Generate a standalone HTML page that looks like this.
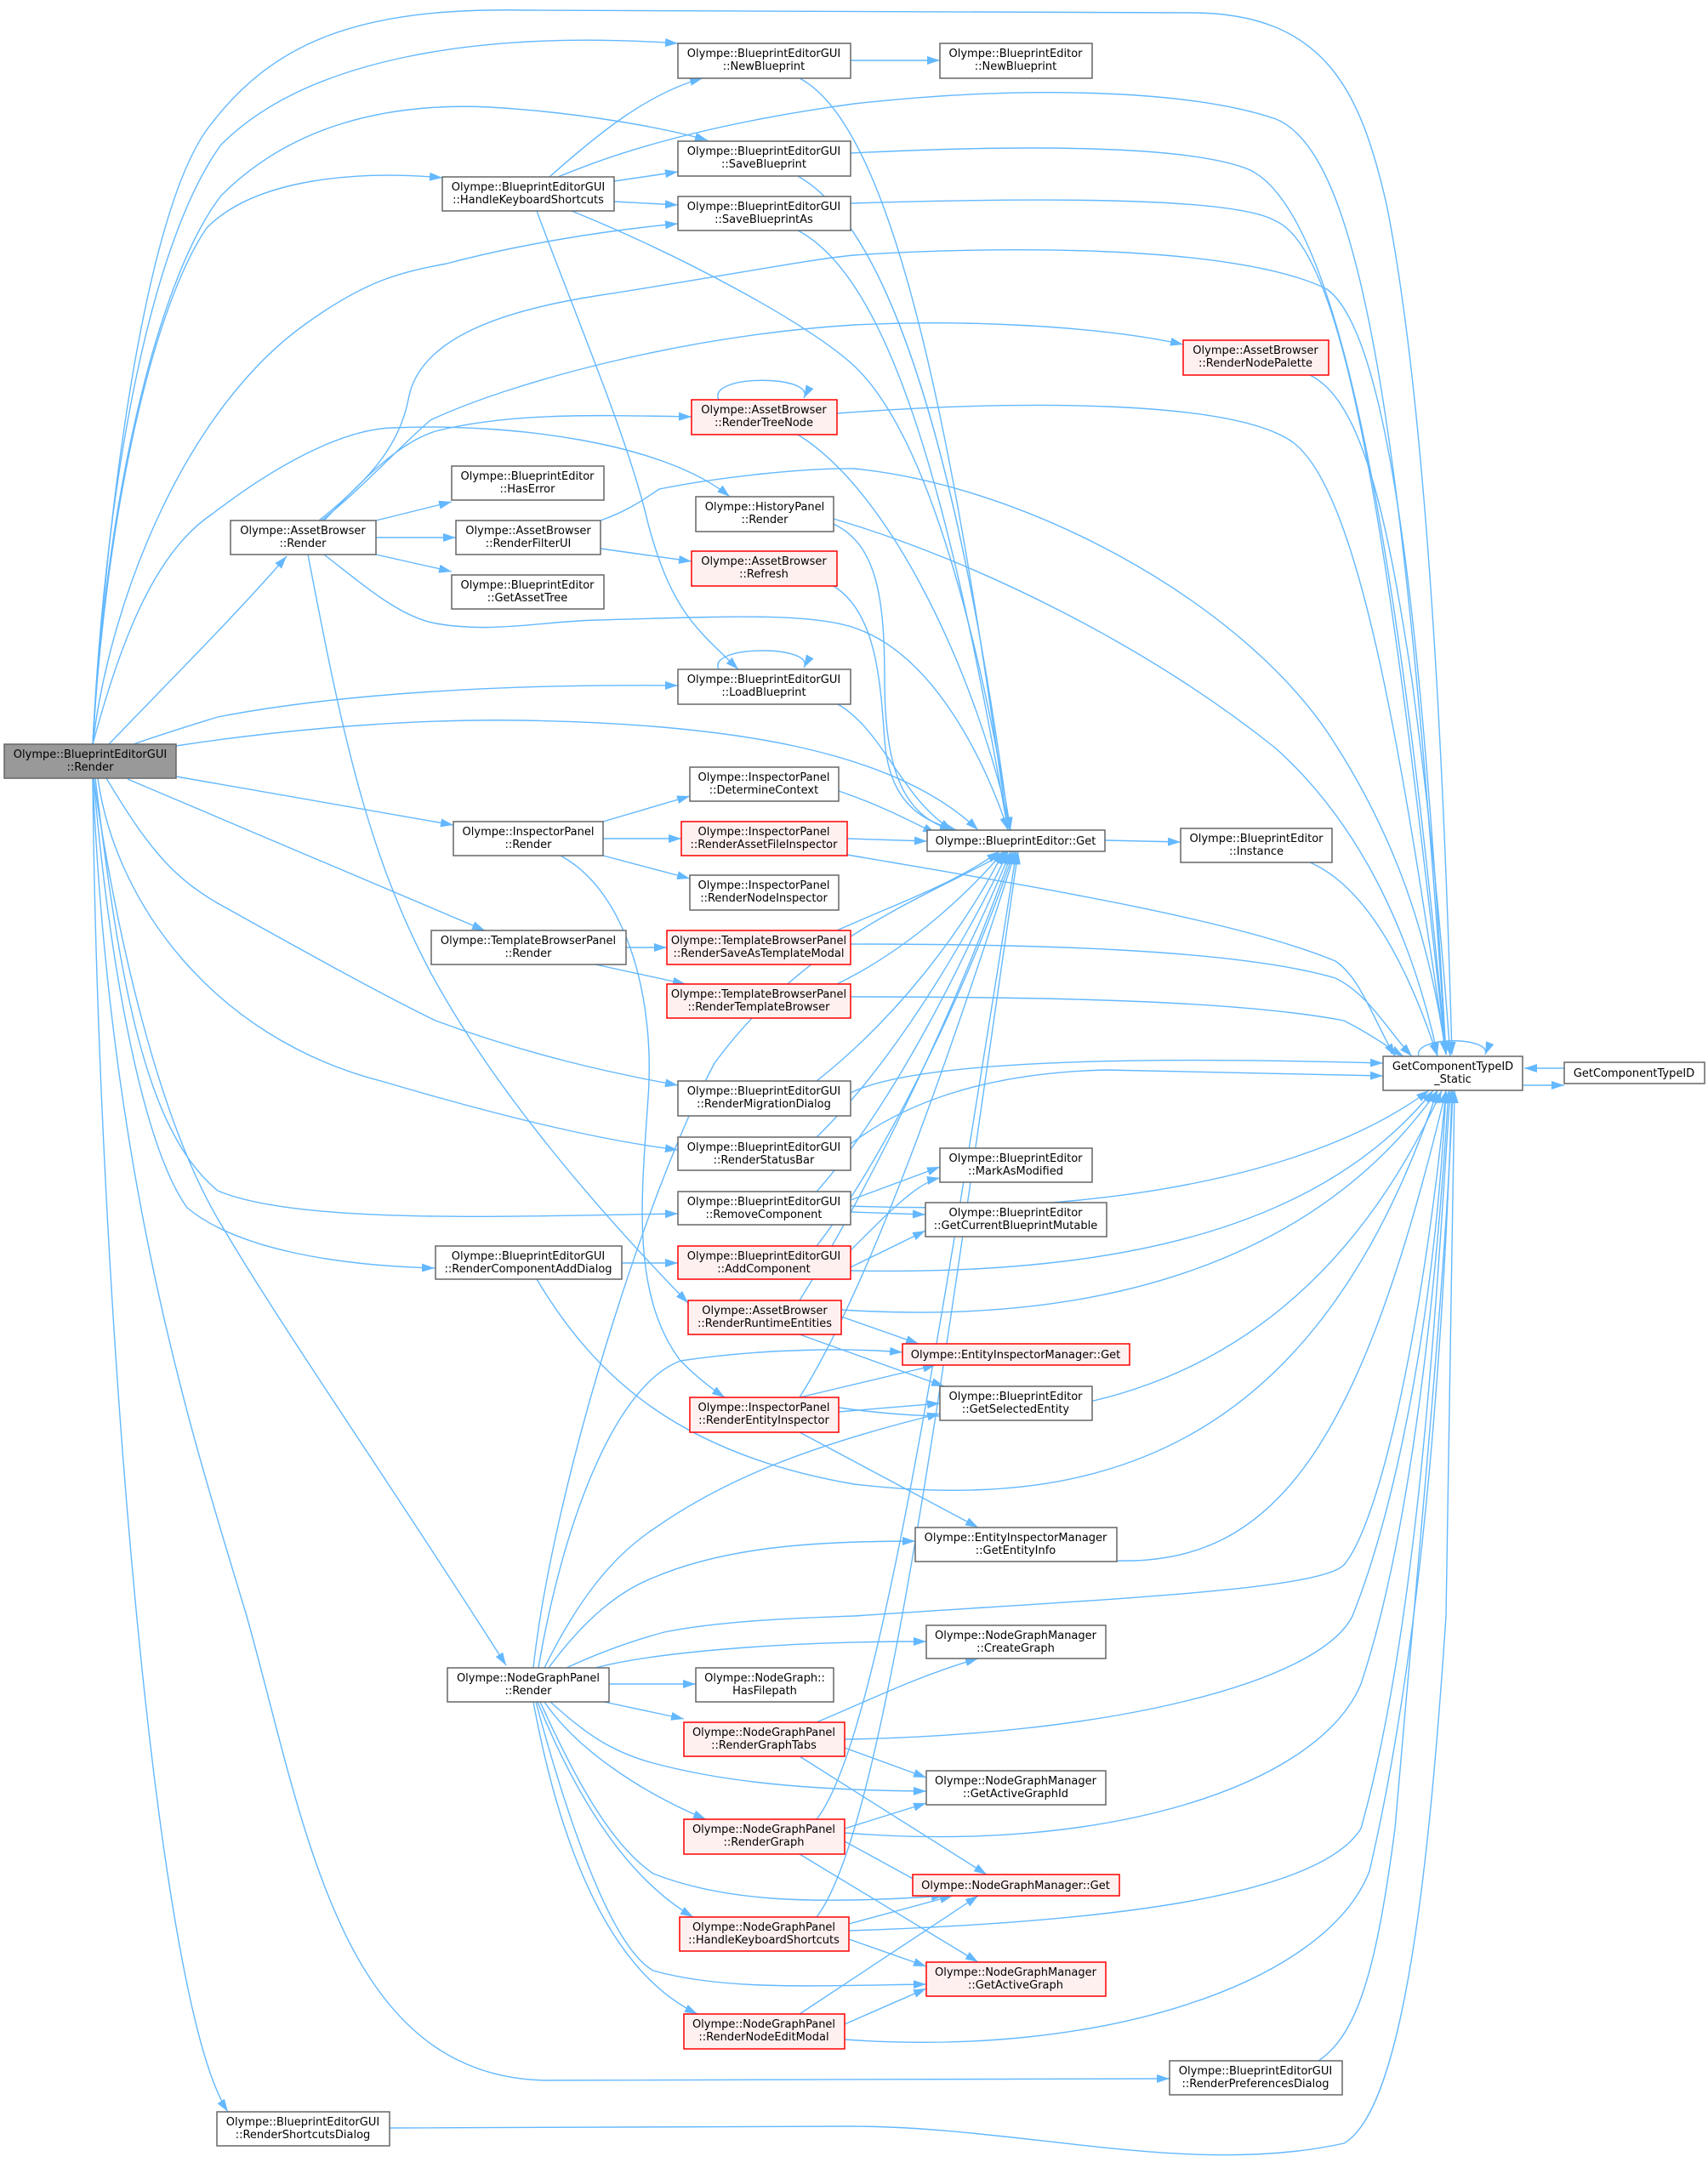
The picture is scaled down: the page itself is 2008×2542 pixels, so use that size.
<!DOCTYPE html>
<html><head><meta charset="utf-8"><style>
html,body{margin:0;padding:0;background:#fff;}
svg{display:block;}
text{font-family:"DejaVu Sans","Liberation Sans",sans-serif;font-size:13px;fill:#000;text-anchor:middle;}
.e{fill:none;stroke:#63b8ff;stroke-width:1.4;marker-end:url(#a);}
.n{fill:#fff;stroke:#666;stroke-width:1.5;}
.r{fill:#fff0f0;stroke:#f00;stroke-width:1.5;}
.g{fill:#999;stroke:#666;stroke-width:1.5;}
</style></head><body>
<svg width="2008" height="2542" viewBox="0 0 2008 2542" xmlns="http://www.w3.org/2000/svg">
<defs><marker id="a" markerUnits="userSpaceOnUse" markerWidth="16" markerHeight="12" refX="15" refY="5" orient="auto"><path d="M0,0 L15,5 L0,10 z" fill="#63b8ff"/></marker></defs>
<g>
<!-- Root edges -->
<path class="e" d="M109,875 C125,600 170,250 245,150 C320,50 420,8 620,12 L1400,15 C1560,15 1600,110 1630,240 C1670,440 1695,800 1707,1240"/>
<path class="e" d="M109,875 C125,550 180,280 260,170 C360,70 560,35 797,51"/>
<path class="e" d="M109,875 C125,570 190,320 260,230 C340,150 450,120 576,126 C680,132 780,150 832,165"/>
<path class="e" d="M109,875 C125,600 180,360 243,268 C300,210 420,200 520,209"/>
<path class="e" d="M109,875 C130,700 220,480 359,381 C430,330 470,320 525,310 C600,290 700,272 797,263"/>
<path class="e" d="M109,875 C140,760 180,650 250,604 C320,550 400,505 461,503 C600,497 780,520 858,584"/>
<path class="e" d="M128,875 C200,800 280,720 337,654"/>
<path class="e" d="M157,875 C200,860 240,848 256,843 C400,815 600,804 797,806"/>
<path class="e" d="M207,877 C350,855 500,845 615,847 C850,851 1050,880 1150,976"/>
<path class="e" d="M207,913 L533,970"/>
<path class="e" d="M150,916 L570,1094"/>
<path class="e" d="M125,915 C170,990 200,1030 256,1062 C360,1120 450,1170 512,1200 C620,1240 720,1262 797,1276"/>
<path class="e" d="M115,915 C135,1060 250,1220 448,1271 C580,1310 700,1340 797,1352"/>
<path class="e" d="M112,915 C140,1150 170,1330 256,1400 C350,1440 600,1430 797,1427"/>
<path class="e" d="M110,915 C130,1150 170,1350 220,1420 C280,1470 400,1488 511,1491"/>
<path class="e" d="M110,915 C140,1120 190,1320 256,1433 C330,1560 450,1730 595,1958"/>
<path class="e" d="M109,915 C130,1400 230,1700 290,1900 C360,2150 400,2440 640,2446 L1375,2444"/>
<path class="e" d="M109,915 C115,1500 180,2350 268,2483"/>
<!-- AssetBrowser::Render -->
<path class="e" d="M442,612 L531,590"/>
<path class="e" d="M442,632 L536,632"/>
<path class="e" d="M442,652 L531,672"/>
<path class="e" d="M381,612 C430,560 470,520 512,507 C600,485 700,488 813,490"/>
<path class="e" d="M378,612 C430,570 470,525 506,494 C600,450 800,395 1004,382 C1150,375 1300,385 1391,405"/>
<path class="e" d="M375,612 C440,560 470,520 480,470 C490,410 560,370 700,348 C850,325 950,305 1004,300 C1150,290 1450,285 1560,340 C1630,390 1670,700 1700,1240"/>
<path class="e" d="M381,652 C430,690 470,725 512,733 C580,745 640,730 704,729 C850,725 950,720 1004,738 C1100,770 1160,900 1185,976"/>
<path class="e" d="M362,652 C400,850 430,1000 506,1143 C580,1280 700,1420 809,1532"/>
<!-- HKS -->
<path class="e" d="M646,208 C700,160 760,110 826,92"/>
<path class="e" d="M656,208 C700,190 800,150 1004,122 C1200,100 1400,105 1500,140 C1600,180 1650,500 1700,1240"/>
<path class="e" d="M722,213 L797,202"/>
<path class="e" d="M722,237 L797,241"/>
<path class="e" d="M672,248 C800,300 950,380 1004,430 C1100,520 1160,800 1188,976"/>
<path class="e" d="M631,248 C680,380 740,520 762,616 C790,720 820,740 868,787"/>
<!-- right column to Get / S -->
<path class="e" d="M1000,71 L1105,71"/>
<path class="e" d="M940,92 C1050,150 1120,500 1185,976"/>
<path class="e" d="M1000,180 C1200,170 1400,170 1470,200 C1570,250 1640,600 1700,1240"/>
<path class="e" d="M938,207 C1050,270 1130,550 1187,976"/>
<path class="e" d="M1000,239 C1200,233 1450,230 1500,260 C1590,300 1640,700 1700,1240"/>
<path class="e" d="M938,271 C1050,330 1120,600 1185,976"/>
<path class="e" d="M845,470 C830,440 960,440 945,468"/>
<path class="e" d="M984,486 C1200,470 1450,470 1520,520 C1600,580 1650,900 1700,1240"/>
<path class="e" d="M938,511 C1050,580 1150,800 1188,976"/>
<path class="e" d="M980,616 C1030,640 1040,700 1040,800 C1040,900 1060,960 1120,976"/>
<path class="e" d="M980,610 C1150,660 1350,760 1500,880 C1600,970 1660,1100 1690,1240"/>
<path class="e" d="M706,645 L813,660"/>
<path class="e" d="M706,612 C740,600 760,585 775,575 C850,560 950,550 1004,551 C1200,570 1450,700 1560,860 C1640,980 1680,1100 1700,1240"/>
<path class="e" d="M980,689 C1030,720 1035,800 1040,870 C1045,940 1080,965 1125,976"/>
<path class="e" d="M845,787 C830,758 960,758 945,785"/>
<path class="e" d="M985,828 C1040,860 1060,940 1120,976"/>
<path class="e" d="M986,930 C1030,945 1060,960 1100,980"/>
<path class="e" d="M709,966 L811,936"/>
<path class="e" d="M709,986 L801,986"/>
<path class="e" d="M709,1006 L811,1033"/>
<path class="e" d="M659,1006 C740,1050 770,1180 762,1290 C755,1400 740,1520 800,1600 C820,1620 840,1635 852,1643"/>
<path class="e" d="M996,986 L1090,989"/>
<path class="e" d="M996,1005 C1200,1040 1450,1080 1570,1130 C1600,1150 1615,1200 1640,1242"/>
<path class="e" d="M736,1114 L784,1114"/>
<path class="e" d="M700,1134 L806,1157"/>
<path class="e" d="M984,1094 C1060,1060 1120,1040 1175,1001"/>
<path class="e" d="M1000,1110 C1200,1110 1450,1115 1570,1150 C1610,1170 1630,1210 1660,1242"/>
<path class="e" d="M984,1157 C1060,1120 1130,1060 1180,1001"/>
<path class="e" d="M1000,1172 C1200,1172 1450,1175 1580,1200 C1610,1215 1630,1230 1650,1242"/>
<path class="e" d="M1299,988 L1388,990"/>
<path class="e" d="M1540,1014 C1600,1040 1650,1120 1690,1242"/>
<path class="e" d="M1540,441 C1600,470 1630,600 1660,800 C1680,950 1695,1100 1705,1242"/>
<path class="e" d="M1668,1242 C1660,1218 1755,1218 1746,1240"/>
<path class="e" d="M1790,1276 L1839,1276"/>
<path class="e" d="M1839,1256 L1792,1256"/>
<!-- lower right column -->
<path class="e" d="M960,1271 C1050,1200 1130,1100 1180,1001"/>
<path class="e" d="M1000,1285 C1050,1260 1200,1238 1626,1250"/>
<path class="e" d="M960,1337 C1050,1250 1140,1100 1185,1001"/>
<path class="e" d="M1000,1345 C1060,1300 1150,1262 1300,1258 L1626,1265"/>
<path class="e" d="M960,1401 C1050,1300 1140,1120 1188,1001"/>
<path class="e" d="M1000,1411 L1105,1372"/>
<path class="e" d="M1000,1425 L1088,1428"/>
<path class="e" d="M1000,1418 C1300,1430 1550,1380 1680,1282"/>
<path class="e" d="M960,1465 C1050,1350 1150,1130 1192,1001"/>
<path class="e" d="M1000,1470 C1050,1420 1080,1390 1105,1385"/>
<path class="e" d="M1000,1490 L1088,1447"/>
<path class="e" d="M1000,1494 C1300,1500 1550,1450 1685,1282"/>
<path class="e" d="M731,1485 L797,1485"/>
<path class="e" d="M631,1504 C700,1620 800,1710 1004,1745 C1300,1780 1550,1700 1690,1282"/>
<path class="e" d="M940,1529 C1020,1400 1120,1200 1190,1001"/>
<path class="e" d="M989,1548 L1080,1580"/>
<path class="e" d="M940,1569 L1110,1630"/>
<path class="e" d="M989,1540 C1300,1560 1550,1480 1690,1282"/>
<path class="e" d="M940,1643 C1030,1500 1130,1200 1194,1001"/>
<path class="e" d="M940,1643 L1100,1605"/>
<path class="e" d="M986,1660 L1105,1650"/>
<path class="e" d="M940,1684 L1150,1796"/>
<path class="e" d="M986,1655 C1300,1700 1550,1600 1695,1282"/>
<path class="e" d="M1313,1835 C1500,1840 1600,1700 1700,1282"/>
<!-- NodeGraphPanel::Render -->
<path class="e" d="M627,1961 C650,1750 760,1400 840,1250 C950,1100 1100,1050 1185,1001"/>
<path class="e" d="M633,1961 C660,1800 720,1630 800,1600 C900,1585 1000,1585 1061,1590"/>
<path class="e" d="M640,1961 C680,1880 720,1830 768,1798 C850,1740 950,1700 1105,1662"/>
<path class="e" d="M645,1961 C690,1900 730,1870 768,1855 C850,1820 950,1812 1076,1812"/>
<path class="e" d="M666,1961 C700,1945 740,1930 781,1919 C850,1905 950,1902 1004,1900 C1300,1880 1550,1870 1580,1840 C1630,1780 1680,1500 1700,1282"/>
<path class="e" d="M700,1961 C760,1945 900,1930 1089,1930"/>
<path class="e" d="M716,1980 L818,1980"/>
<path class="e" d="M710,2001 L804,2021"/>
<path class="e" d="M647,2001 C690,2040 720,2060 768,2073 C850,2095 950,2105 1089,2106"/>
<path class="e" d="M640,2001 C680,2060 760,2110 830,2139"/>
<path class="e" d="M635,2001 C680,2100 720,2170 768,2203 C850,2235 950,2240 1110,2229"/>
<path class="e" d="M632,2001 C680,2120 740,2210 815,2254"/>
<path class="e" d="M630,2001 C670,2150 720,2290 768,2317 C850,2340 950,2335 1089,2333"/>
<path class="e" d="M627,2001 C660,2180 720,2320 820,2368"/>
<path class="e" d="M960,2025 C1020,2000 1080,1970 1150,1950"/>
<path class="e" d="M993,2055 L1089,2090"/>
<path class="e" d="M940,2065 L1160,2204"/>
<path class="e" d="M993,2045 C1300,2040 1550,1980 1590,1900 C1650,1750 1690,1500 1700,1282"/>
<path class="e" d="M960,2139 C1030,2050 1100,1600 1195,1001"/>
<path class="e" d="M993,2150 L1089,2120"/>
<path class="e" d="M993,2165 L1110,2229"/>
<path class="e" d="M940,2180 L1150,2307"/>
<path class="e" d="M993,2155 C1300,2180 1550,2100 1600,1980 C1660,1800 1690,1500 1703,1282"/>
<path class="e" d="M960,2254 C1040,2150 1110,1600 1197,1001"/>
<path class="e" d="M998,2262 L1120,2229"/>
<path class="e" d="M998,2280 L1089,2312"/>
<path class="e" d="M998,2270 C1300,2260 1550,2230 1600,2150 C1670,1900 1690,1500 1705,1282"/>
<path class="e" d="M940,2368 L1150,2229"/>
<path class="e" d="M993,2380 L1089,2338"/>
<path class="e" d="M993,2398 C1300,2420 1560,2330 1610,2200 C1680,1900 1700,1500 1707,1282"/>
<path class="e" d="M1550,2423 C1600,2390 1620,2300 1640,2150 C1670,1800 1700,1500 1708,1282"/>
<path class="e" d="M458,2502 L1000,2500 C1200,2500 1400,2560 1580,2520 C1650,2480 1680,2200 1700,1900 L1710,1282"/>
</g>
<g>
<rect class="g" x="5" y="875" width="202" height="40"/><text x="106" y="891">Olympe::BlueprintEditorGUI</text><text x="106" y="906">::Render</text>
<rect class="n" x="797" y="51" width="203" height="41"/><text x="898" y="67">Olympe::BlueprintEditorGUI</text><text x="898" y="82">::NewBlueprint</text>
<rect class="n" x="1105" y="51" width="179" height="41"/><text x="1194" y="67">Olympe::BlueprintEditor</text><text x="1194" y="82">::NewBlueprint</text>
<rect class="n" x="797" y="166" width="203" height="41"/><text x="898" y="182">Olympe::BlueprintEditorGUI</text><text x="898" y="197">::SaveBlueprint</text>
<rect class="n" x="520" y="208" width="202" height="40"/><text x="621" y="224">Olympe::BlueprintEditorGUI</text><text x="621" y="239">::HandleKeyboardShortcuts</text>
<rect class="n" x="797" y="231" width="203" height="40"/><text x="898" y="247">Olympe::BlueprintEditorGUI</text><text x="898" y="262">::SaveBlueprintAs</text>
<rect class="r" x="1391" y="400" width="171" height="41"/><text x="1476" y="416">Olympe::AssetBrowser</text><text x="1476" y="431">::RenderNodePalette</text>
<rect class="r" x="813" y="470" width="171" height="41"/><text x="898" y="486">Olympe::AssetBrowser</text><text x="898" y="501">::RenderTreeNode</text>
<rect class="n" x="531" y="548" width="179" height="40"/><text x="620" y="564">Olympe::BlueprintEditor</text><text x="620" y="579">::HasError</text>
<rect class="n" x="818" y="584" width="162" height="41"/><text x="899" y="600">Olympe::HistoryPanel</text><text x="899" y="615">::Render</text>
<rect class="n" x="271" y="612" width="171" height="40"/><text x="356" y="628">Olympe::AssetBrowser</text><text x="356" y="643">::Render</text>
<rect class="n" x="536" y="612" width="170" height="40"/><text x="621" y="628">Olympe::AssetBrowser</text><text x="621" y="643">::RenderFilterUI</text>
<rect class="r" x="813" y="648" width="171" height="41"/><text x="898" y="664">Olympe::AssetBrowser</text><text x="898" y="679">::Refresh</text>
<rect class="n" x="531" y="676" width="179" height="40"/><text x="620" y="692">Olympe::BlueprintEditor</text><text x="620" y="707">::GetAssetTree</text>
<rect class="n" x="797" y="787" width="203" height="41"/><text x="898" y="803">Olympe::BlueprintEditorGUI</text><text x="898" y="818">::LoadBlueprint</text>
<rect class="n" x="811" y="902" width="175" height="40"/><text x="898" y="918">Olympe::InspectorPanel</text><text x="898" y="933">::DetermineContext</text>
<rect class="n" x="1090" y="976" width="209" height="25"/><text x="1194" y="993">Olympe::BlueprintEditor::Get</text>
<rect class="n" x="1388" y="974" width="178" height="40"/><text x="1477" y="990">Olympe::BlueprintEditor</text><text x="1477" y="1005">::Instance</text>
<rect class="n" x="533" y="966" width="176" height="40"/><text x="621" y="982">Olympe::InspectorPanel</text><text x="621" y="997">::Render</text>
<rect class="r" x="801" y="966" width="195" height="40"/><text x="898" y="982">Olympe::InspectorPanel</text><text x="898" y="997">::RenderAssetFileInspector</text>
<rect class="n" x="811" y="1029" width="175" height="41"/><text x="898" y="1045">Olympe::InspectorPanel</text><text x="898" y="1060">::RenderNodeInspector</text>
<rect class="n" x="507" y="1094" width="229" height="40"/><text x="621" y="1110">Olympe::TemplateBrowserPanel</text><text x="621" y="1125">::Render</text>
<rect class="r" x="784" y="1094" width="216" height="40"/><text x="892" y="1110">Olympe::TemplateBrowserPanel</text><text x="892" y="1125">::RenderSaveAsTemplateModal</text>
<rect class="r" x="784" y="1157" width="216" height="40"/><text x="892" y="1173">Olympe::TemplateBrowserPanel</text><text x="892" y="1188">::RenderTemplateBrowser</text>
<rect class="n" x="1626" y="1242" width="164" height="40"/><text x="1708" y="1258">GetComponentTypeID</text><text x="1708" y="1273">_Static</text>
<rect class="n" x="1839" y="1249" width="165" height="25"/><text x="1921" y="1266">GetComponentTypeID</text>
<rect class="n" x="797" y="1271" width="203" height="41"/><text x="898" y="1287">Olympe::BlueprintEditorGUI</text><text x="898" y="1302">::RenderMigrationDialog</text>
<rect class="n" x="797" y="1337" width="203" height="39"/><text x="898" y="1353">Olympe::BlueprintEditorGUI</text><text x="898" y="1368">::RenderStatusBar</text>
<rect class="n" x="1105" y="1350" width="179" height="40"/><text x="1194" y="1366">Olympe::BlueprintEditor</text><text x="1194" y="1381">::MarkAsModified</text>
<rect class="n" x="797" y="1401" width="203" height="39"/><text x="898" y="1417">Olympe::BlueprintEditorGUI</text><text x="898" y="1432">::RemoveComponent</text>
<rect class="n" x="1088" y="1414" width="213" height="40"/><text x="1194" y="1430">Olympe::BlueprintEditor</text><text x="1194" y="1445">::GetCurrentBlueprintMutable</text>
<rect class="n" x="512" y="1465" width="219" height="39"/><text x="621" y="1481">Olympe::BlueprintEditorGUI</text><text x="621" y="1496">::RenderComponentAddDialog</text>
<rect class="r" x="797" y="1465" width="203" height="39"/><text x="898" y="1481">Olympe::BlueprintEditorGUI</text><text x="898" y="1496">::AddComponent</text>
<rect class="r" x="809" y="1529" width="180" height="40"/><text x="899" y="1545">Olympe::AssetBrowser</text><text x="899" y="1560">::RenderRuntimeEntities</text>
<rect class="r" x="1061" y="1580" width="267" height="25"/><text x="1194" y="1597">Olympe::EntityInspectorManager::Get</text>
<rect class="n" x="1105" y="1630" width="179" height="40"/><text x="1194" y="1646">Olympe::BlueprintEditor</text><text x="1194" y="1661">::GetSelectedEntity</text>
<rect class="r" x="811" y="1643" width="175" height="41"/><text x="898" y="1659">Olympe::InspectorPanel</text><text x="898" y="1674">::RenderEntityInspector</text>
<rect class="n" x="1076" y="1796" width="237" height="40"/><text x="1194" y="1812">Olympe::EntityInspectorManager</text><text x="1194" y="1827">::GetEntityInfo</text>
<rect class="n" x="1089" y="1911" width="211" height="39"/><text x="1194" y="1927">Olympe::NodeGraphManager</text><text x="1194" y="1942">::CreateGraph</text>
<rect class="n" x="526" y="1961" width="190" height="40"/><text x="621" y="1977">Olympe::NodeGraphPanel</text><text x="621" y="1992">::Render</text>
<rect class="n" x="818" y="1961" width="162" height="40"/><text x="899" y="1977">Olympe::NodeGraph::</text><text x="899" y="1992">HasFilepath</text>
<rect class="r" x="804" y="2025" width="189" height="40"/><text x="898" y="2041">Olympe::NodeGraphPanel</text><text x="898" y="2056">::RenderGraphTabs</text>
<rect class="n" x="1089" y="2082" width="211" height="40"/><text x="1194" y="2098">Olympe::NodeGraphManager</text><text x="1194" y="2113">::GetActiveGraphId</text>
<rect class="r" x="804" y="2139" width="189" height="41"/><text x="898" y="2155">Olympe::NodeGraphPanel</text><text x="898" y="2170">::RenderGraph</text>
<rect class="r" x="1073" y="2204" width="243" height="25"/><text x="1194" y="2221">Olympe::NodeGraphManager::Get</text>
<rect class="r" x="799" y="2254" width="199" height="40"/><text x="898" y="2270">Olympe::NodeGraphPanel</text><text x="898" y="2285">::HandleKeyboardShortcuts</text>
<rect class="r" x="1089" y="2307" width="211" height="40"/><text x="1194" y="2323">Olympe::NodeGraphManager</text><text x="1194" y="2338">::GetActiveGraph</text>
<rect class="r" x="804" y="2368" width="189" height="41"/><text x="898" y="2384">Olympe::NodeGraphPanel</text><text x="898" y="2399">::RenderNodeEditModal</text>
<rect class="n" x="1375" y="2423" width="203" height="40"/><text x="1476" y="2439">Olympe::BlueprintEditorGUI</text><text x="1476" y="2454">::RenderPreferencesDialog</text>
<rect class="n" x="255" y="2483" width="203" height="40"/><text x="356" y="2499">Olympe::BlueprintEditorGUI</text><text x="356" y="2514">::RenderShortcutsDialog</text>
</g>
</svg>
</body></html>
